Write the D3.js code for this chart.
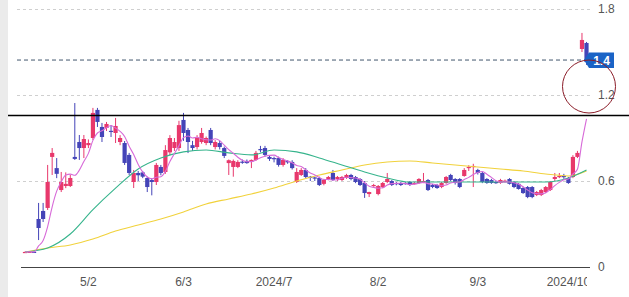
<!DOCTYPE html>
<html>
<head>
<meta charset="utf-8">
<script src="https://cdn.jsdelivr.net/npm/d3@7"></script>
<style>
html, body { margin: 0; padding: 0; background: #fff; }
svg { display: block; font-family: "Liberation Sans", Arial, sans-serif; }
</style>
</head>
<body>
<div id="chart"></div>
<script>
// candle data
var opens = [.105,.105,.106,.335,.391,.412,.768,.690,.537,.565,.565,.768,.872,.830,.850,.900,1.096,.977,.970,.950,
  .935,.872,.865,.782,.593,.656,.660,.621,.607,.593,.698,.663,.800,.830,.830,1.026,.956,.850,.837,.872,
  .865,.956,.837,.865,.830,.725,.698,.698,.735,.740,.735,.747,.823,.830,.768,.760,.760,.712,.740,.733,
  .593,.642,.677,.630,.625,.621,.580,.614,.656,.614,.607,.621,.642,.628,.614,.586,.509,.565,.509,.558,
  .593,.600,.586,.586,.586,.593,.580,.586,.593,.607,.572,.572,.558,.586,.642,.614,.614,.635,.690,.700,
  .677,.656,.614,.607,.593,.586,.600,.614,.593,.580,.551,.558,.558,.502,.502,.523,.537,.614,.628,.635,
  .620,.628,.768,1.521,1.563];
var highs = [.108,.108,.108,.447,.447,.712,.830,.760,.663,.660,.642,1.144,.921,.921,.890,1.110,1.110,1.005,1.012,.990,
  1.040,.920,.879,.796,.677,.670,.670,.630,.620,.726,.712,.850,.920,.900,1.020,1.075,.970,.880,.920,.970,
  .910,.970,.885,.880,.840,.750,.750,.745,.750,.750,.750,.810,.845,.845,.780,.770,.770,.760,.745,.745,
  .690,.690,.690,.635,.630,.630,.615,.635,.677,.635,.635,.650,.650,.635,.620,.600,.525,.580,.572,.593,
  .656,.607,.593,.593,.593,.600,.593,.620,.656,.614,.580,.580,.593,.635,.650,.620,.620,.690,.710,.720,
  .685,.665,.620,.615,.600,.615,.610,.620,.600,.586,.560,.565,.565,.530,.545,.565,.600,.656,.656,.650,
  .628,.780,.810,1.633,1.570];
var lows = [.103,.103,.104,.188,.314,.398,.642,.620,.523,.550,.558,.747,.747,.760,.830,.886,.977,.872,.949,.907,
  .865,.850,.712,.642,.551,.600,.620,.523,.500,.572,.640,.650,.780,.810,.810,.880,.795,.810,.820,.860,
  .850,.850,.820,.820,.760,.642,.630,.690,.720,.720,.690,.740,.800,.770,.740,.730,.700,.700,.720,.680,
  .586,.635,.620,.600,.600,.565,.570,.605,.600,.600,.600,.615,.605,.585,.565,.482,.488,.560,.500,.550,
  .585,.565,.570,.565,.575,.565,.575,.580,.585,.530,.550,.545,.550,.580,.600,.575,.550,.630,.670,.558,
  .645,.585,.580,.580,.580,.580,.590,.575,.550,.540,.510,.480,.480,.495,.495,.515,.530,.600,.620,.615,
  .580,.620,.760,1.500,1.410];
var closes = [.105,.106,.105,.272,.335,.593,.796,.650,.593,.580,.621,.754,.830,.893,.865,1.075,1.012,.907,.998,.945,
  .984,.900,.726,.656,.656,.640,.630,.558,.593,.712,.656,.816,.900,.872,.990,.935,.872,.830,.900,.935,
  .900,.865,.872,.837,.775,.745,.740,.733,.730,.725,.747,.796,.816,.782,.754,.754,.712,.747,.730,.690,
  .663,.677,.628,.623,.620,.572,.607,.628,.607,.628,.628,.642,.614,.593,.572,.516,.523,.572,.565,.586,
  .614,.572,.580,.572,.580,.572,.586,.614,.600,.537,.558,.551,.586,.628,.607,.586,.558,.677,.698,.705,
  .656,.593,.586,.586,.590,.607,.602,.580,.558,.544,.516,.488,.488,.523,.537,.558,.593,.628,.635,.628,
  .586,.768,.796,1.584,1.430];

// 25-day and 75-day averages, read at every fifth bar
var ma25Idx = [0,5,10,15,20,25,30,35,40,45,50,55,60,65,70,75,80,85,90,95,100,105,110,115,120,124];
var ma25 = [.105,.133,.230,.400,.550,.684,.760,.803,.816,.796,.782,.816,.803,.761,.712,.663,.621,.593,.593,.593,.593,.593,.593,.593,.621,.677];
var ma75Idx = [0,5,10,15,20,25,30,35,40,45,50,55,60,65,70,75,80,85,90,95,100,105,110,115,120,124];
var ma75 = [.105,.133,.154,.195,.251,.293,.335,.384,.440,.475,.509,.551,.600,.642,.677,.712,.733,.740,.726,.712,.698,.684,.670,.649,.635,.670];

var yTicks = [0, 0.6, 1.2, 1.8];
var xTickIdx = [14, 35, 55, 78, 100, 120];
var xTickLabels = ["5/2", "6/3", "2024/7", "8/2", "9/3", "2024/10"];

var width = 629, height = 297;
var upColor = "#e8386c", downColor = "#4444b8";

var svg = d3.select("#chart").append("svg")
  .attr("width", width)
  .attr("height", height);

var x = d3.scaleLinear().domain([0, closes.length - 1]).range([25, 586.5]);
var y = d3.scaleLinear().domain([0, 1.8]).range([267, 9]);

svg.append("defs").append("clipPath").attr("id", "plotClip")
  .append("rect").attr("x", 0).attr("y", 0).attr("width", 587).attr("height", height);

// grey strip on the left
svg.append("rect").attr("x", 0).attr("y", 0).attr("width", 8).attr("height", height).attr("fill", "#ebebeb");

// grid lines
svg.append("g").selectAll("line")
  .data(yTicks.filter(function(d) { return d > 0; }))
  .enter().append("line")
  .attr("x1", 17).attr("x2", 590)
  .attr("y1", function(d) { return Math.round(y(d)) + 0.5; })
  .attr("y2", function(d) { return Math.round(y(d)) + 0.5; })
  .attr("stroke", "#cfcfcf")
  .attr("stroke-dasharray", "3,3");

// bottom axis line
svg.append("line")
  .attr("x1", 21).attr("x2", 590)
  .attr("y1", Math.round(y(0)) + 0.5).attr("y2", Math.round(y(0)) + 0.5)
  .attr("stroke", "#444");

// last price line
var last = closes[closes.length - 1];
svg.append("line")
  .attr("x1", 17).attr("x2", 589)
  .attr("y1", y(last) - 2).attr("y2", y(last) - 2)
  .attr("stroke", "#42566e")
  .attr("stroke-dasharray", "4,3");

// candles
var candles = svg.append("g").selectAll("g")
  .data(closes.map(function(c, i) {
    return { i: i, o: opens[i], h: highs[i], l: lows[i], c: c };
  }))
  .enter().append("g");

candles.append("line")
  .attr("x1", function(d) { return x(d.i); })
  .attr("x2", function(d) { return x(d.i); })
  .attr("y1", function(d) { return y(d.h); })
  .attr("y2", function(d) { return y(d.l); })
  .attr("stroke", function(d) { return d.c >= d.o ? upColor : downColor; })
  .attr("stroke-width", 1);

candles.append("rect")
  .attr("x", function(d) { return x(d.i) - 2.1; })
  .attr("width", 4.2)
  .attr("y", function(d) { return y(Math.max(d.o, d.c)); })
  .attr("height", function(d) { return Math.max(1.2, Math.abs(y(d.o) - y(d.c))); })
  .attr("fill", function(d) { return d.c >= d.o ? upColor : downColor; });

// moving averages
var ma5 = closes.map(function(c, i) {
  return d3.mean(closes.slice(Math.max(0, i - 4), i + 1));
});

var line = d3.line()
  .x(function(d) { return x(d[0]); })
  .y(function(d) { return y(d[1]); })
  .curve(d3.curveMonotoneX);

svg.append("path")
  .attr("d", line(ma75Idx.map(function(d, k) { return [d, ma75[k]]; })))
  .attr("fill", "none").attr("stroke", "#f1d23c").attr("stroke-width", 1.1);

svg.append("path")
  .attr("d", line(ma25Idx.map(function(d, k) { return [d, ma25[k]]; })))
  .attr("fill", "none").attr("stroke", "#36b48c").attr("stroke-width", 1.1);

svg.append("path")
  .attr("d", line(ma5.map(function(d, i) { return [i, d]; })))
  .attr("fill", "none").attr("stroke", "#d76ad8").attr("stroke-width", 1.1);

// y labels
svg.append("g").selectAll("text")
  .data(yTicks)
  .enter().append("text")
  .attr("x", 598)
  .attr("y", function(d) { return y(d); })
  .attr("dy", "0.35em")
  .attr("font-size", 12)
  .attr("fill", "#555")
  .text(function(d) { return d === 0 ? "0" : d3.format(".1f")(d); });

// x labels
svg.append("g").attr("clip-path", "url(#plotClip)").selectAll("text")
  .data(xTickIdx)
  .enter().append("text")
  .attr("x", function(d) { return x(d); })
  .attr("y", 282)
  .attr("dy", "0.35em")
  .attr("text-anchor", "middle")
  .attr("font-size", 12)
  .attr("fill", "#555")
  .text(function(d, k) { return xTickLabels[k]; });

// price tag
var py = y(last) - 2;
svg.append("path")
  .attr("d", "M584," + py + "L589," + (py - 7.5) + "L614," + (py - 7.5) + "L614," + (py + 8) + "L589," + (py + 8) + "Z")
  .attr("fill", "#1a63c6");
svg.append("text")
  .attr("x", 601.5).attr("y", py)
  .attr("dy", "0.38em")
  .attr("text-anchor", "middle")
  .attr("font-size", 12)
  .attr("font-weight", "bold")
  .attr("fill", "#fff")
  .text(d3.format(".1f")(last));

// hand drawn marks
svg.append("line")
  .attr("x1", 8).attr("x2", width)
  .attr("y1", 115.5).attr("y2", 115.5)
  .attr("stroke", "#000").attr("stroke-width", 1.5);

svg.append("circle")
  .attr("cx", 589).attr("cy", 86.5).attr("r", 26.5)
  .attr("fill", "none")
  .attr("stroke", "#8b1c28").attr("stroke-width", 1);
</script>
</body>
</html>
